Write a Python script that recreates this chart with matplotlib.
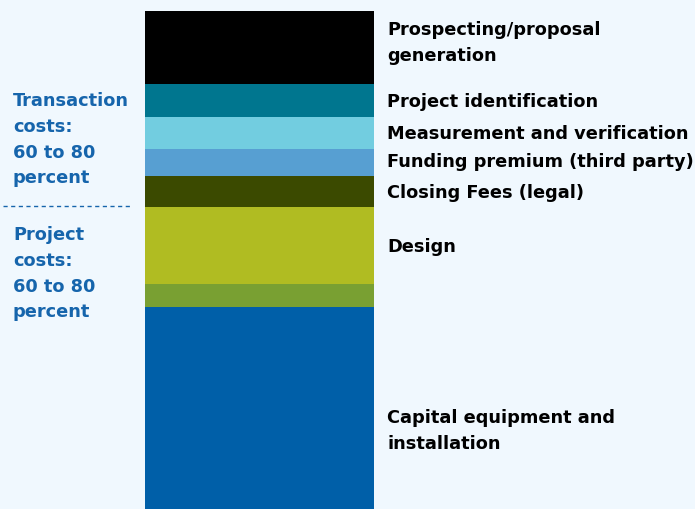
import matplotlib
matplotlib.use("Agg")
import matplotlib.pyplot as plt
import numpy as np

# Cost components of a project, top of the bar first (share in percent)
components = [
    "Prospecting/proposal\ngeneration",
    "Project identification",
    "Measurement and verification",
    "Funding premium (third party)",
    "Closing Fees (legal)",
    "Design",
    "Capital equipment and\ninstallation",
]
shares = [14.8, 6.6, 6.4, 5.4, 6.2, 15.4, 4.6, 40.5]
colors = ["#000000", "#00768f", "#72cde0", "#579fd2", "#3b4a00",
          "#b0bc22", "#79a032", "#005fa8"]
# which segment each right-hand label describes
label_segment = [0, 1, 2, 3, 4, 5, 7]
label_shift_pts = [3.8, 0, 0, 1.5, -0.5, 0, -16]  # vertical nudges, in points (up is +)

group_lines = [["Transaction", "costs:", "60 to 80", "percent"],
               ["Project", "costs:", "60 to 80", "percent"]]

W, H, DPI = 695, 510, 100
BG = "#f0f8fe"
TXT_BLUE = "#1665ac"
FONT = ["DejaVu Sans"]
FSIZE = 12.8

fig = plt.figure(figsize=(W / DPI, H / DPI), dpi=DPI, facecolor=BG)
ax = fig.add_axes([145 / W, 0, 229 / W, 498.5 / H])
ax.set_facecolor(BG)

total = sum(shares)
tops = total - np.concatenate([[0], np.cumsum(shares)[:-1]])
for top, s, c in zip(tops, shares, colors):
    ax.bar(0.5, -s, bottom=top, width=1.0, color=c, linewidth=0)
ax.set_xlim(0, 1)
ax.set_ylim(total - 99.9, total)
ax.axis("off")

centers = tops - np.array(shares) / 2
for text, seg, dy in zip(components, label_segment, label_shift_pts):
    ax.annotate(text, xy=(1, centers[seg]), xycoords=("axes fraction", "data"),
                xytext=(9.5, dy), textcoords="offset points",
                ha="left", va="center", fontsize=FSIZE, fontweight="bold",
                family=FONT, color="#000000", linespacing=1.57, annotation_clip=False)

# left-hand group descriptions and divider
line_h = 25.8 / H
def put_group(lines, y_first_px):
    for i, t in enumerate(lines):
        fig.text(13 / W, 1 - (y_first_px / H) - i * line_h, t, ha="left", va="center",
                 fontsize=FSIZE, fontweight="bold", family=FONT, color=TXT_BLUE)

put_group(group_lines[0], 101)
put_group(group_lines[1], 235)
fig.add_artist(plt.Line2D([3 / W, 132 / W], [1 - 207 / H] * 2, color=TXT_BLUE,
                          linewidth=1.0, linestyle=(0, (3, 2.5))))

fig.savefig("out.png", dpi=DPI, facecolor=BG)
